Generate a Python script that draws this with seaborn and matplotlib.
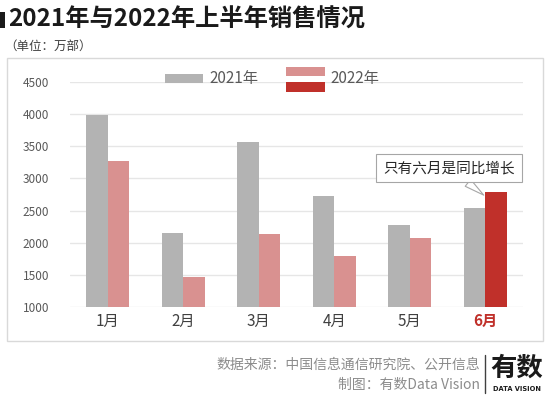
import pandas as pd
import matplotlib.pyplot as plt
import seaborn as sns
from matplotlib.patches import Rectangle
from matplotlib.lines import Line2D

months = ['1月', '2月', '3月', '4月', '5月', '6月']
sales_2021 = [3990, 2155, 3560, 2720, 2280, 2535]
sales_2022 = [3270, 1470, 2130, 1790, 2070, 2790]
years = ['2021年', '2022年']

gray = '#b3b3b3'
pink = '#d99190'
red = '#c0302a'

df = pd.DataFrame({
    'month': months * 2,
    'sales': sales_2021 + sales_2022,
    'year': [years[0]] * 6 + [years[1]] * 6,
})

sns.set_style('white')
plt.rcParams['font.family'] = ['Noto Sans CJK SC', 'DejaVu Sans']

W, H = 550, 396
fig = plt.figure(figsize=(5.5, 3.96), dpi=100)
fig.patch.set_facecolor('white')

def fx(px):
    return px / W

def fy(py):
    return 1 - py / H

# outer frame
fig.add_artist(Rectangle((fx(7), fy(341)), fx(543) - fx(7), fy(58) - fy(341),
                         transform=fig.transFigure, fill=False, ec='#d9d9d9', lw=1))

ax = fig.add_axes([fx(70), fy(307), fx(523) - fx(70), fy(82) - fy(307)])
sns.barplot(data=df, x='month', y='sales', hue='year', palette=[gray, pink],
            width=0.57, legend=False, ax=ax, saturation=1)
ax.containers[1][5].set_facecolor(red)
for p in ax.patches:
    p.set_edgecolor('none')

ax.set_ylim(1000, 4500)
ax.set_xlim(-0.5, 5.5)
ax.set_yticks(range(1000, 4501, 500))
ax.yaxis.grid(True, color='#e6e6e6', lw=1)
ax.set_axisbelow(True)
for s in ax.spines.values():
    s.set_visible(False)
ax.set_xlabel('')
ax.set_ylabel('')
ax.tick_params(axis='y', length=0, labelsize=8.5, labelcolor='#595959', pad=15)
ax.tick_params(axis='x', length=0, labelsize=11, labelcolor='#404040', pad=4)
for lab in ax.get_xticklabels():
    if lab.get_text() == '6月':
        lab.set_color(red)
        lab.set_fontweight('bold')

# callout
ax.annotate('只有六月是同比增长', xy=(4.98, 2740), xytext=(4.52, 3160),
            ha='center', va='center', fontsize=10.5, color='#262626',
            bbox=dict(boxstyle='square,pad=0.5', fc='white', ec='#a6a6a6', lw=0.8),
            arrowprops=dict(arrowstyle='wedge,tail_width=0.6', fc='white',
                            ec='#a6a6a6', lw=0.8, shrinkA=0, shrinkB=0))

# legend
fig.add_artist(Rectangle((fx(165), fy(83)), fx(38), fy(74) - fy(83),
                         transform=fig.transFigure, color=gray, lw=0))
fig.text(fx(209), fy(79), years[0], fontsize=11, color='#595959', va='center')
fig.add_artist(Rectangle((fx(286), fy(76)), fx(39), fy(67) - fy(76),
                         transform=fig.transFigure, color=pink, lw=0))
fig.add_artist(Rectangle((fx(286), fy(92)), fx(39), fy(82) - fy(92),
                         transform=fig.transFigure, color=red, lw=0))
fig.text(fx(330), fy(79), years[1], fontsize=11, color='#595959', va='center')

# title
fig.add_artist(Rectangle((fx(0), fy(28)), fx(5), fy(12) - fy(28),
                         transform=fig.transFigure, color='#1a1a1a', lw=0))
fig.text(fx(8), fy(20), '2021年与2022年上半年销售情况', fontsize=17.5,
         fontweight='bold', color='#1a1a1a', va='center')
fig.text(fx(4), fy(46), '（单位：万部）', fontsize=9, color='#404040', va='center')

# footer
fig.text(fx(480), fy(365), '数据来源：中国信息通信研究院、公开信息', fontsize=10,
         color='#8c8c8c', ha='right', va='center')
fig.text(fx(480), fy(385), '制图：有数Data Vision', fontsize=10,
         color='#8c8c8c', ha='right', va='center')
fig.add_artist(Line2D([fx(485), fx(485)], [fy(355), fy(393)],
                      transform=fig.transFigure, color='#404040', lw=1))
fig.text(fx(517), fy(368), '有数', fontsize=19, fontweight='bold',
         color='#1a1a1a', ha='center', va='center')
fig.text(fx(517), fy(389), 'DATA VISION', fontsize=4.8, fontweight='bold',
         color='#1a1a1a', ha='center', va='center', family='DejaVu Sans')

fig.savefig('out.png', dpi=100)
